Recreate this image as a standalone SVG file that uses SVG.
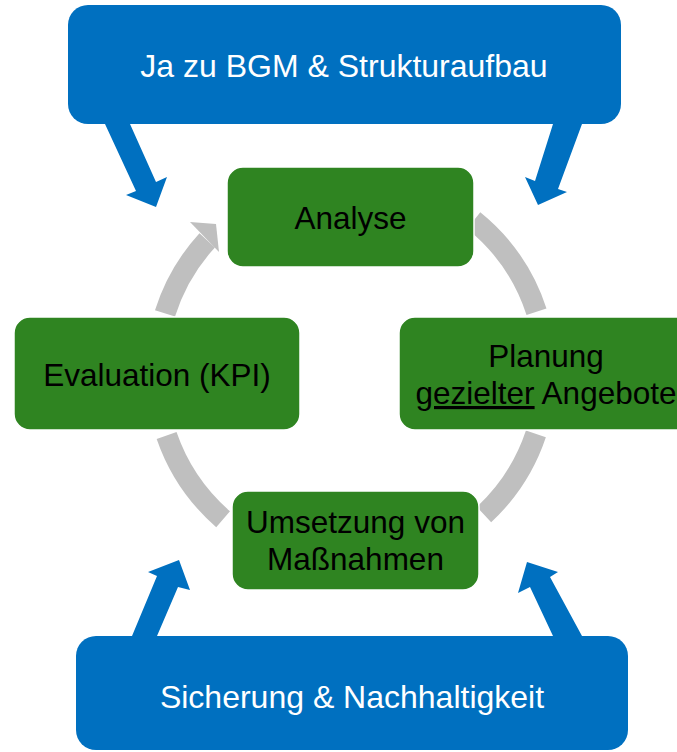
<svg xmlns="http://www.w3.org/2000/svg" width="677" height="752" viewBox="0 0 677 752">
  <style>
    .blue { fill: #0070C0; }
    .green { fill: #2F8421; stroke: #ffffff; stroke-width: 1.5; }
    .arc { fill: none; stroke: #BFBFBF; stroke-width: 21; }
    .head { fill: #BFBFBF; }
    .tw { font-family: "Liberation Sans", Arial, sans-serif; font-size: 32px; fill: #ffffff; text-anchor: middle; }
    .tb { font-family: "Liberation Sans", Arial, sans-serif; font-size: 31.5px; fill: #000000; text-anchor: middle; }
  </style>
  <rect width="677" height="752" fill="#ffffff"/>
  <g id="connectors">
    <path class="arc" d="M 473.7 220.5 A 195 195 0 0 1 536.5 311.7"/>
    <path class="arc" d="M 535.9 433.9 A 195 195 0 0 1 484.0 514.6"/>
    <path class="arc" d="M 223.1 519.2 A 195 195 0 0 1 166.6 435.5"/>
    <path class="arc" d="M 165.0 313.4 A 195 195 0 0 1 207.2 240.3"/>
    <polygon class="head" points="190,222 216,224 219,252"/>
    <polygon class="blue" points="105,124 130,124 156,182 167,177 156,207 126,195 136,191"/>
    <polygon class="blue" points="553,124 582,124 558,189 567,192 538,205 525,177 535,181"/>
    <polygon class="blue" points="132,636 157,636 178,587 190,590 179,560 148,572 157,576"/>
    <polygon class="blue" points="553,636 582,636 550,577 558,572 527,562 518,593 530,587"/>
  </g>
  <g id="node-top">
    <rect class="blue" x="68" y="5" width="553" height="119" rx="20"/>
    <text class="tw" x="344" y="77">Ja zu BGM &amp; Strukturaufbau</text>
  </g>
  <g id="node-bottom">
    <rect class="blue" x="76" y="636" width="552" height="114" rx="20"/>
    <text class="tw" x="352" y="708">Sicherung &amp; Nachhaltigkeit</text>
  </g>
  <g id="node-analyse">
    <rect class="green" x="227" y="167" width="247" height="100" rx="16"/>
    <text class="tb" x="350.5" y="229">Analyse</text>
  </g>
  <g id="node-planung">
    <rect class="green" x="399" y="317" width="292" height="113" rx="16"/>
    <text class="tb" x="546" y="367">Planung</text>
    <text class="tb" x="546" y="404"><tspan text-decoration="underline" style="text-decoration:underline">gezielter</tspan> Angebote</text>
  </g>
  <g id="node-umsetzung">
    <rect class="green" x="232" y="491" width="247" height="99" rx="16"/>
    <text class="tb" x="355.5" y="533">Umsetzung von</text>
    <text class="tb" x="355.5" y="570">Maßnahmen</text>
  </g>
  <g id="node-evaluation">
    <rect class="green" x="14" y="317" width="286" height="113" rx="16"/>
    <text class="tb" x="157" y="386">Evaluation (KPI)</text>
  </g>
</svg>
